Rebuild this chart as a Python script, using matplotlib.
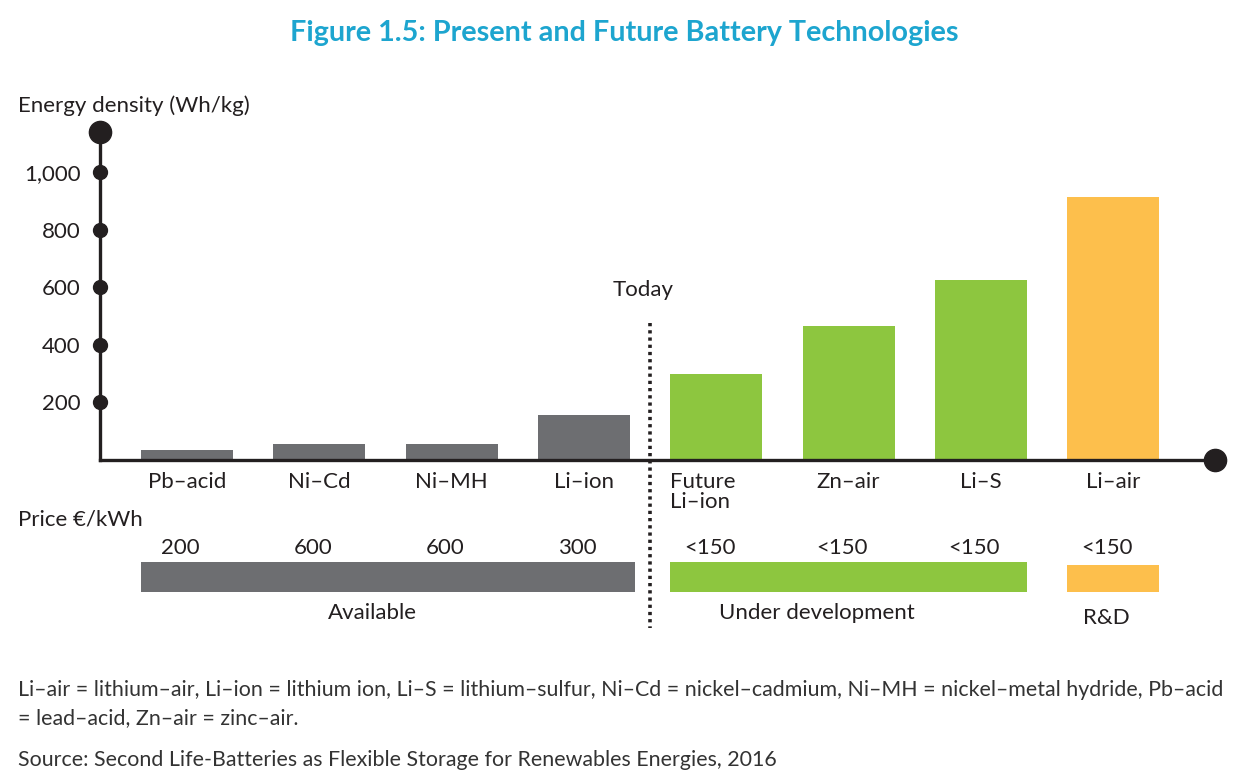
import matplotlib
matplotlib.use("Agg")
import matplotlib.pyplot as plt
from matplotlib.transforms import blended_transform_factory

plt.rcParams['font.family'] = ['Lato', 'DejaVu Sans']

# data
techs = ['Pb\u2013acid', 'Ni\u2013Cd', 'Ni\u2013MH', 'Li\u2013ion',
         'Future\nLi\u2013ion', 'Zn\u2013air', 'Li\u2013S', 'Li\u2013air']
density = [35, 55, 55, 155, 300, 465, 625, 915]
prices = ['200', '600', '600', '300', '<150', '<150', '<150', '<150']
stage = ['Available', 'Available', 'Available', 'Available',
         'Under development', 'Under development', 'Under development', 'R&D']
groups = ['Available', 'Under development', 'R&D']
yticks = [200, 400, 600, 800, 1000]

GRAY = '#6d6e71'
GREEN = '#8dc63f'
ORANGE = '#fdbf4c'
DARK = '#231f20'
TITLE = '#1da5cf'
stage_col = {'Available': GRAY, 'Under development': GREEN, 'R&D': ORANGE}
FS = 16

W, H = 1249, 781
fig = plt.figure(figsize=(W / 100, H / 100), dpi=100)

def fx(px):
    return px / W

def fy(py):
    return 1 - py / H

# main axes: y-axis at x=100px, baseline at y=460px
ax = fig.add_axes([fx(100), fy(460), fx(1215 - 100), (460 - 132) / H])
x = list(range(len(techs)))
bw = 0.695
ax.bar(x, density, width=bw, color=[stage_col[s] for s in stage], zorder=2)
ax.set_xlim(-0.658, 7.77)
ax.set_ylim(0, 1139)

for s in ['top', 'right']:
    ax.spines[s].set_visible(False)
for s in ['left', 'bottom']:
    ax.spines[s].set_color(DARK)
    ax.spines[s].set_linewidth(2.4)
    ax.spines[s].set_zorder(3)
ax.set_xticks([])
ax.set_yticks(yticks)
ax.set_yticklabels([f'{v:,}' for v in yticks], fontsize=FS, color=DARK)
ax.tick_params(axis='y', length=0, pad=14)

# axis dots
x0 = ax.get_xlim()[0]
ax.plot([x0] * len(yticks), yticks, 'o', color=DARK, ms=10, clip_on=False, zorder=4)
ax.plot([x0], [ax.get_ylim()[1]], 'o', color=DARK, ms=16, clip_on=False, zorder=4)
ax.plot([ax.get_xlim()[1]], [0], 'o', color=DARK, ms=16, clip_on=False, zorder=4)

# category labels
tb = blended_transform_factory(ax.transData, fig.transFigure)
for i, t in enumerate(techs):
    if '\n' in t:
        ax.text(i - bw / 2, fy(472), t, transform=tb, ha='left', va='top',
                fontsize=FS, color=DARK, linespacing=1.0)
    else:
        ax.text(i, fy(472), t, transform=tb, ha='center', va='top',
                fontsize=FS, color=DARK)

# today divider
ax.plot([3.5, 3.5], [476, -583], color=DARK, lw=2.6, ls=(0, (0.9, 1.1)),
        clip_on=False, zorder=3)
ax.text(3.45, fy(290), 'Today', transform=tb, ha='center', va='center',
        fontsize=FS, color=DARK)

# price bars
pax = fig.add_axes([fx(100), fy(592), fx(1215 - 100), 30 / H], sharex=ax)
pax.axis('off')
pax.set_ylim(0, 30)
label_shift = {'Available': -0.1, 'Under development': -0.24, 'R&D': -0.05}
for g in groups:
    idx = [i for i, s in enumerate(stage) if s == g]
    left = idx[0] - bw / 2
    right = idx[-1] + bw / 2 + (0.04 if g == 'Available' else 0)
    h = 27 if g == 'R&D' else 30
    pax.barh(0, right - left, left=left, height=h, align='edge', color=stage_col[g])
    lab_y = 618 if g == 'R&D' else 613
    pax.text((idx[0] + idx[-1]) / 2 + label_shift[g], fy(lab_y),
             g, transform=tb, ha='center', va='center', fontsize=FS, color=DARK)
for i, p in enumerate(prices):
    pax.text(i - 0.05, fy(548), p, transform=tb, ha='center', va='center',
             fontsize=FS, color=DARK)

# headings and notes
fig.text(fx(624), fy(33), 'Figure 1.5: Present and Future Battery Technologies',
         ha='center', va='center', fontsize=20.7, fontweight='bold', color=TITLE)
fig.text(fx(18), fy(106), 'Energy density (Wh/kg)', ha='left', va='center',
         fontsize=FS, color=DARK)
fig.text(fx(18), fy(520), 'Price \u20ac/kWh', ha='left', va='center',
         fontsize=FS, color=DARK)
NOTE = '#333333'
fig.text(fx(18), fy(690),
         'Li\u2013air = lithium\u2013air, Li\u2013ion = lithium ion, Li\u2013S = lithium\u2013sulfur, '
         'Ni\u2013Cd = nickel\u2013cadmium, Ni\u2013MH = nickel\u2013metal hydride, Pb\u2013acid',
         ha='left', va='center', fontsize=15.4, color=NOTE)
fig.text(fx(18), fy(718), '= lead\u2013acid, Zn\u2013air = zinc\u2013air.',
         ha='left', va='center', fontsize=15.4, color=NOTE)
fig.text(fx(18), fy(760),
         'Source: Second Life-Batteries as Flexible Storage for Renewables Energies, 2016',
         ha='left', va='center', fontsize=15.4, color=NOTE)

fig.savefig('out.png', dpi=100, facecolor='white')
